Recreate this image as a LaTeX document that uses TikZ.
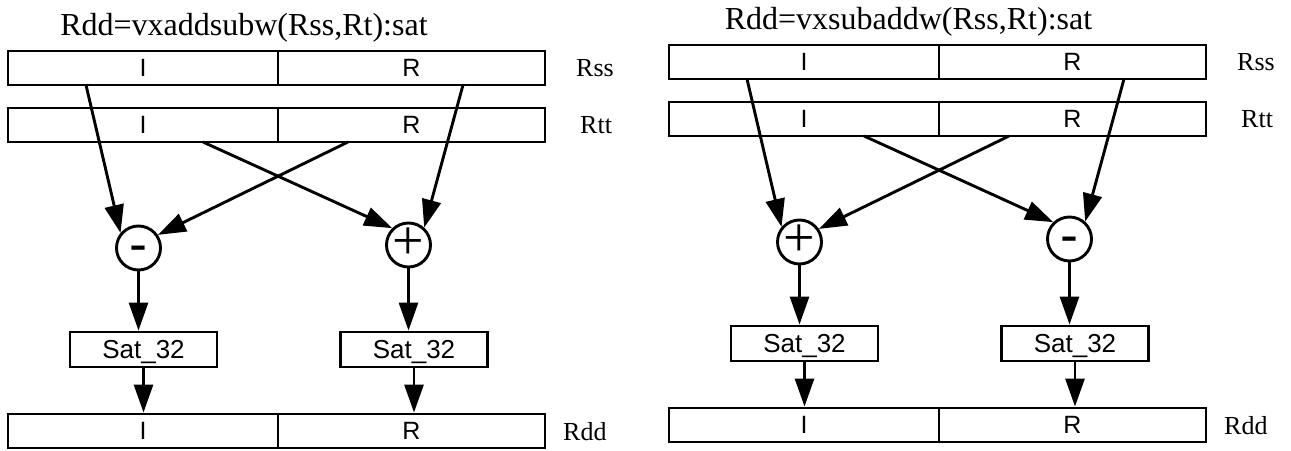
\documentclass[tikz,border=0pt]{standalone}
\usepackage{fontspec}
\setmainfont{Liberation Serif}
\newfontfamily\sansf{Liberation Sans}
\usetikzlibrary{arrows.meta,calc}
\begin{document}
\begin{tikzpicture}[x=1pt,y=-1pt]
\tikzset{
 regbox/.style={draw, line width=2.9pt, inner sep=0pt, minimum height=34pt, font=\fontsize{25}{30}\sansf, text depth=0pt},
 satbox/.style={draw, line width=2.9pt, inner sep=0pt, minimum width=147pt, minimum height=35pt, font=\fontsize{26}{30}\sansf, text depth=0pt},
 opc/.style={draw, circle, line width=2.9pt, inner sep=0pt, minimum size=44pt},
 opminus/.style={font=\fontsize{54}{54}\sansf, anchor=base, yshift=-14pt, inner sep=0pt},
 opplus/.style={font=\fontsize{56}{56}\selectfont, anchor=base, yshift=-14.2pt, inner sep=0pt},
 titletext/.style={font=\fontsize{32}{36}\selectfont, anchor=base, inner sep=0pt},
 reglabel/.style={font=\fontsize{26}{30}\selectfont, anchor=west, inner sep=0pt},
 arr/.style={line width=2.9pt, -{Triangle[length=28pt,width=19pt]}},
}
\useasboundingbox (0,0) rectangle (1291,450);

% ---------- left diagram ----------
\node[titletext] (Ltitle) at (244,35) {Rdd=vxaddsubw(Rss,Rt):sat};
\node[regbox, minimum width=270pt] (LRssI) at (143,68) {I};
\node[regbox, minimum width=267pt] (LRssR) at (411.5,68) {R};
\node[reglabel] (LRsslab) at (576,68) {Rss};
\node[regbox, minimum width=270pt] (LRttI) at (143,125) {I};
\node[regbox, minimum width=267pt] (LRttR) at (411.5,125) {R};
\node[reglabel] (LRttlab) at (580,125) {Rtt};
\node[regbox, minimum width=270pt] (LRddI) at (143,431) {I};
\node[regbox, minimum width=267pt] (LRddR) at (411.5,431) {R};
\node[reglabel] (LRddlab) at (563,432) {Rdd};

\coordinate (La) at (86,85);
\coordinate (Lb) at (463,85);
\coordinate (Lc) at (203,142);
\coordinate (Ld) at (348,142);

\node[opc] (Lm) at (138.5,248) {};
\node[opminus] (Lmsym) at (Lm.center) {-};
\node[opc] (Lp) at (408.5,245) {};
\node[opplus] (Lpsym) at (Lp.center) {+};

\node[satbox] (LSat1) at (143.5,349.5) {Sat\_32};
\node[satbox] (LSat2) at (414,349.5) {Sat\_32};

\draw[arr] (La) -- (Lm.140);
\draw[arr] (Lb) -- (Lp.48);
\draw[arr] (Lc) -- (Lp.134);
\draw[arr] (Ld) -- (Lm.34);
\draw[arr] (Lm.south) -- (Lm.south |- LSat1.north);
\draw[arr] (Lp.south) -- (Lp.south |- LSat2.north);
\draw[arr] (LSat1.south) -- (LSat1.south |- LRddI.north);
\draw[arr] (LSat2.south) -- (LSat2.south |- LRddR.north);

% ---------- right diagram ----------
\begin{scope}[shift={(661,-6)}]
\node[titletext] (Rtitle) at (247.5,35) {Rdd=vxsubaddw(Rss,Rt):sat};
\node[regbox, minimum width=270pt] (RRssI) at (143,68) {I};
\node[regbox, minimum width=267pt] (RRssR) at (411.5,68) {R};
\node[reglabel] (RRsslab) at (576,68) {Rss};
\node[regbox, minimum width=270pt] (RRttI) at (143,125) {I};
\node[regbox, minimum width=267pt] (RRttR) at (411.5,125) {R};
\node[reglabel] (RRttlab) at (580,125) {Rtt};
\node[regbox, minimum width=270pt] (RRddI) at (143,431) {I};
\node[regbox, minimum width=267pt] (RRddR) at (411.5,431) {R};
\node[reglabel] (RRddlab) at (563,432) {Rdd};

\coordinate (Ra) at (86,85);
\coordinate (Rb) at (463,85);
\coordinate (Rc) at (203,142);
\coordinate (Rd) at (348,142);

\node[opc] (Rp) at (138.5,248) {};
\node[opplus] (Rpsym) at (Rp.center) {+};
\node[opc] (Rm) at (408.5,245) {};
\node[opminus] (Rmsym) at (Rm.center) {-};

\node[satbox] (RSat1) at (143.5,349.5) {Sat\_32};
\node[satbox] (RSat2) at (414,349.5) {Sat\_32};

\draw[arr] (Ra) -- (Rp.140);
\draw[arr] (Rb) -- (Rm.48);
\draw[arr] (Rc) -- (Rm.134);
\draw[arr] (Rd) -- (Rp.34);
\draw[arr] (Rp.south) -- (Rp.south |- RSat1.north);
\draw[arr] (Rm.south) -- (Rm.south |- RSat2.north);
\draw[arr] (RSat1.south) -- (RSat1.south |- RRddI.north);
\draw[arr] (RSat2.south) -- (RSat2.south |- RRddR.north);
\end{scope}
\end{tikzpicture}
\end{document}
